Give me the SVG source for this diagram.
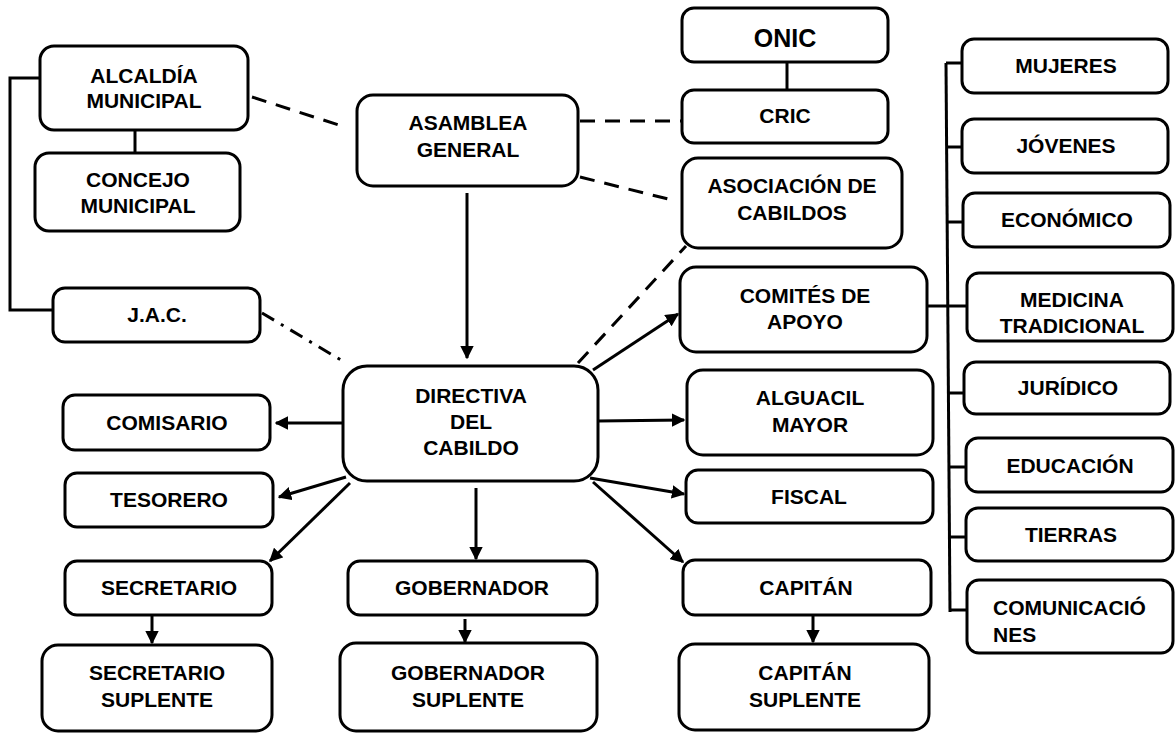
<svg xmlns="http://www.w3.org/2000/svg" width="1175" height="733" viewBox="0 0 1175 733">
<defs>
<style>
.b{fill:#fff;stroke:#000;stroke-width:3}
.t{font-family:"Liberation Sans",Arial,sans-serif;font-weight:bold;font-size:21px;fill:#000;text-anchor:middle}
.l{fill:none;stroke:#000;stroke-width:3}
.d{fill:none;stroke:#000;stroke-width:3;stroke-dasharray:15 10}
.dd{fill:none;stroke:#000;stroke-width:3;stroke-dasharray:14 8 3 8}
.a{fill:none;stroke:#000;stroke-width:3;marker-end:url(#ah)}
</style>
<marker id="ah" viewBox="0 0 10 10" refX="9" refY="5" markerWidth="4.5" markerHeight="4.5" orient="auto" markerUnits="strokeWidth">
<path d="M0,0 L10,5 L0,10 z" fill="#000"/>
</marker>
</defs>
<rect width="1175" height="733" fill="#fff"/>
<g id="connectors">
<path class="l" d="M40,78 H10 V310 H53"/>
<path class="l" d="M135,130 V153"/>
<path class="l" d="M787,62 V90"/>
<path class="l" d="M946,63 L950,612"/>
<path class="l" d="M946,63 H962"/>
<path class="l" d="M946,147 H962"/>
<path class="l" d="M947,222 H963"/>
<path class="l" d="M927,306 H967"/>
<path class="l" d="M948,393 H964"/>
<path class="l" d="M949,467 H966"/>
<path class="l" d="M949,537 H966"/>
<path class="l" d="M950,610 H967"/>
<path class="d" d="M252,97 L345,127"/>
<path class="d" d="M580,121 H682"/>
<path class="d" d="M580,177 L676,201"/>
<path class="d" d="M578,363 L686,246"/>
<path class="dd" d="M262,313 L346,363"/>
<path class="a" d="M467,193 V358"/>
<path class="a" d="M593,370 L678,314"/>
<path class="a" d="M598,421 L684,420"/>
<path class="a" d="M590,478 L684,494"/>
<path class="a" d="M593,482 L683,562"/>
<path class="a" d="M343,423 H276"/>
<path class="a" d="M346,477 L279,497"/>
<path class="a" d="M350,483 L270,561"/>
<path class="a" d="M476,488 V559"/>
<path class="a" d="M152,615 V643"/>
<path class="a" d="M465,619 V642"/>
<path class="a" d="M813,616 V642"/>
</g>
<g id="alcaldia"><rect class="b" x="40" y="46" width="208" height="84" rx="14"/><text class="t" x="144" y="83">ALCALDÍA</text><text class="t" x="144" y="108">MUNICIPAL</text></g>
<g id="concejo"><rect class="b" x="35" y="153" width="205" height="78" rx="14"/><text class="t" x="138" y="187">CONCEJO</text><text class="t" x="138" y="213">MUNICIPAL</text></g>
<g id="jac"><rect class="b" x="53" y="288" width="207" height="54" rx="12"/><text class="t" x="157" y="322">J.A.C.</text></g>
<g id="asamblea"><rect class="b" x="357" y="95" width="221" height="91" rx="16"/><text class="t" x="468" y="130">ASAMBLEA</text><text class="t" x="468" y="157">GENERAL</text></g>
<g id="onic"><rect class="b" x="682" y="8" width="206" height="54" rx="12"/><text class="t" x="785" y="47" style="font-size:25px">ONIC</text></g>
<g id="cric"><rect class="b" x="682" y="90" width="206" height="53" rx="12"/><text class="t" x="785" y="123">CRIC</text></g>
<g id="asociacion"><rect class="b" x="682" y="158" width="220" height="90" rx="16"/><text class="t" x="792" y="193">ASOCIACIÓN DE</text><text class="t" x="792" y="220">CABILDOS</text></g>
<g id="comites"><rect class="b" x="680" y="267" width="247" height="85" rx="16"/><text class="t" x="805" y="303">COMITÉS DE</text><text class="t" x="805" y="329">APOYO</text></g>
<g id="alguacil"><rect class="b" x="687" y="370" width="246" height="85" rx="16"/><text class="t" x="810" y="405">ALGUACIL</text><text class="t" x="810" y="432">MAYOR</text></g>
<g id="fiscal"><rect class="b" x="686" y="470" width="247" height="53" rx="12"/><text class="t" x="809" y="504">FISCAL</text></g>
<g id="capitan"><rect class="b" x="683" y="560" width="248" height="55" rx="12"/><text class="t" x="806" y="595">CAPITÁN</text></g>
<g id="capitan-suplente"><rect class="b" x="679" y="644" width="250" height="86" rx="16"/><text class="t" x="805" y="680">CAPITÁN</text><text class="t" x="805" y="707">SUPLENTE</text></g>
<g id="directiva"><rect class="b" x="343" y="366" width="255" height="115" rx="24"/><text class="t" x="471" y="403">DIRECTIVA</text><text class="t" x="471" y="429">DEL</text><text class="t" x="471" y="455">CABILDO</text></g>
<g id="comisario"><rect class="b" x="63" y="395" width="207" height="55" rx="12"/><text class="t" x="167" y="430">COMISARIO</text></g>
<g id="tesorero"><rect class="b" x="65" y="473" width="208" height="54" rx="12"/><text class="t" x="169" y="507">TESORERO</text></g>
<g id="secretario"><rect class="b" x="65" y="561" width="207" height="54" rx="12"/><text class="t" x="169" y="595">SECRETARIO</text></g>
<g id="secretario-suplente"><rect class="b" x="42" y="645" width="230" height="86" rx="16"/><text class="t" x="157" y="680">SECRETARIO</text><text class="t" x="157" y="707">SUPLENTE</text></g>
<g id="gobernador"><rect class="b" x="348" y="561" width="249" height="54" rx="12"/><text class="t" x="472" y="595">GOBERNADOR</text></g>
<g id="gobernador-suplente"><rect class="b" x="340" y="643" width="257" height="88" rx="16"/><text class="t" x="468" y="680">GOBERNADOR</text><text class="t" x="468" y="707">SUPLENTE</text></g>
<g id="mujeres"><rect class="b" x="962" y="39" width="206" height="54" rx="12"/><text class="t" x="1066" y="73">MUJERES</text></g>
<g id="jovenes"><rect class="b" x="962" y="119" width="206" height="54" rx="12"/><text class="t" x="1066" y="153">JÓVENES</text></g>
<g id="economico"><rect class="b" x="963" y="193" width="207" height="54" rx="12"/><text class="t" x="1067" y="227">ECONÓMICO</text></g>
<g id="medicina"><rect class="b" x="967" y="273" width="206" height="68" rx="12"/><text class="t" x="1072" y="307">MEDICINA</text><text class="t" x="1072" y="333">TRADICIONAL</text></g>
<g id="juridico"><rect class="b" x="964" y="362" width="206" height="52" rx="12"/><text class="t" x="1068" y="395">JURÍDICO</text></g>
<g id="educacion"><rect class="b" x="966" y="438" width="207" height="54" rx="12"/><text class="t" x="1070" y="473">EDUCACIÓN</text></g>
<g id="tierras"><rect class="b" x="966" y="508" width="207" height="53" rx="12"/><text class="t" x="1071" y="542">TIERRAS</text></g>
<g id="comunicaciones"><rect class="b" x="967" y="580" width="206" height="73" rx="12"/><text class="t" x="993" y="615" style="text-anchor:start">COMUNICACIÓ</text><text class="t" x="993" y="642" style="text-anchor:start">NES</text></g>
</svg>
